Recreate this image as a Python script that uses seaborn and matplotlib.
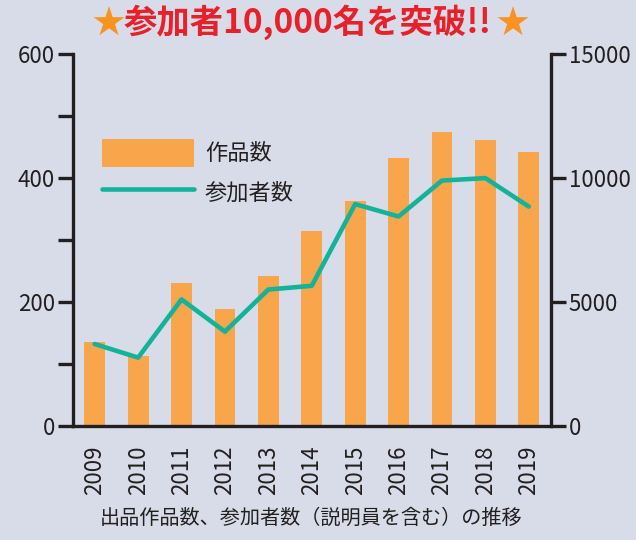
import numpy as np
import pandas as pd
import matplotlib
matplotlib.use("Agg")
import matplotlib.pyplot as plt
import seaborn as sns

years = ["2009", "2010", "2011", "2012", "2013", "2014", "2015", "2016", "2017", "2018", "2019"]
works = [135, 113, 230, 188, 242, 314, 363, 433, 475, 462, 442]
participants = [3300, 2750, 5100, 3800, 5500, 5650, 8950, 8450, 9900, 10000, 8850]
left_ticks = [0, 200, 400, 600]
left_minor = [100, 300, 500]
right_ticks = [0, 5000, 10000, 15000]
title_text = "参加者10,000名を突破!!"
caption = "出品作品数、参加者数（説明員を含む）の推移"
label_works = "作品数"
label_part = "参加者数"

BG = "#d8dce8"
ORANGE = "#f9a54c"
TEAL = "#13b39a"
DARK = "#231f20"
RED = "#e8202a"
STAR = "#f7931e"

sns.set_theme(style="white")
plt.rcParams["font.family"] = ["Noto Sans CJK JP", "DejaVu Sans"]
plt.rcParams["text.color"] = DARK
plt.rcParams["axes.labelcolor"] = DARK
plt.rcParams["xtick.color"] = DARK
plt.rcParams["ytick.color"] = DARK

df = pd.DataFrame({"year": years, "works": works, "participants": participants})

fig = plt.figure(figsize=(6.36, 5.4), dpi=100, facecolor=BG)
ax = fig.add_axes([73 / 636, 1 - 425.7 / 540, (550.5 - 73) / 636, (425.7 - 54.3) / 540])
ax.set_facecolor(BG)

sns.barplot(data=df, x="year", y="works", color=ORANGE, saturation=1, width=0.48,
            ax=ax, label=label_works, zorder=2, linewidth=0, edgecolor="none")
ax2 = ax.twinx()
sns.lineplot(data=df, x="year", y="participants", color=TEAL, linewidth=3.3,
             ax=ax2, label=label_part, sort=False, zorder=3)

n = len(years)
ax.set_xlim(-0.5, n - 0.5)
ax.set_ylim(0, 600)
ax2.set_ylim(0, 15000)

ax.set_xticks(range(n))
ax.set_xticklabels(years, rotation=90, fontsize=16)
ax.set_xticks(np.arange(-0.5, n, 1), minor=True)
ax.tick_params(axis="x", which="major", length=0, pad=14, colors=DARK)
ax.tick_params(axis="x", which="minor", length=12, width=2.4, direction="out", color=DARK)

ax.set_yticks(left_ticks)
ax.set_yticks(left_minor, minor=True)
ax.tick_params(axis="y", which="both", length=11, width=2.4, direction="out",
               labelsize=16, pad=2, color=DARK, left=True)
ax2.set_yticks(right_ticks)
ax2.tick_params(axis="y", which="major", length=11, width=2.4, direction="out",
                labelsize=16, pad=2, color=DARK, right=True)

ax.set_xlabel("")
ax.set_ylabel("")
ax2.set_xlabel("")
ax2.set_ylabel("")

for a in (ax, ax2):
    a.spines["top"].set_visible(False)
    for s in a.spines.values():
        s.set_linewidth(2.4)
        s.set_color(DARK)
ax2.spines["left"].set_visible(False)
ax2.spines["bottom"].set_visible(False)
ax.spines["right"].set_visible(False)

# legend
h1, l1 = ax.get_legend_handles_labels()
h2, l2 = ax2.get_legend_handles_labels()
for a in (ax, ax2):
    if a.get_legend():
        a.get_legend().remove()
leg = fig.legend(h1 + h2, l1 + l2, loc="upper left",
                 bbox_to_anchor=(101.5 / 636, 1 - 138.5 / 540),
                 frameon=False, fontsize=16, handlelength=4.15, handleheight=1.6,
                 labelspacing=0.5, handletextpad=0.5, borderpad=0, borderaxespad=0)
for t in leg.get_texts():
    t.set_color(DARK)

# title
fig.text(108 / 636, 1 - 25 / 540, "★", color=STAR, fontsize=29, ha="center", va="center",
         family=["DejaVu Sans"])
fig.text(307.5 / 636, 1 - 22.5 / 540, title_text, color=RED, fontsize=24, fontweight="bold",
         ha="center", va="center")
fig.text(512 / 636, 1 - 25 / 540, "★", color=STAR, fontsize=29, ha="center", va="center",
         family=["DejaVu Sans"])

fig.text(311 / 636, 1 - 518 / 540, caption, fontsize=14.5, ha="center", va="center", color=DARK)

fig.savefig("out.png", dpi=100, facecolor=BG)
